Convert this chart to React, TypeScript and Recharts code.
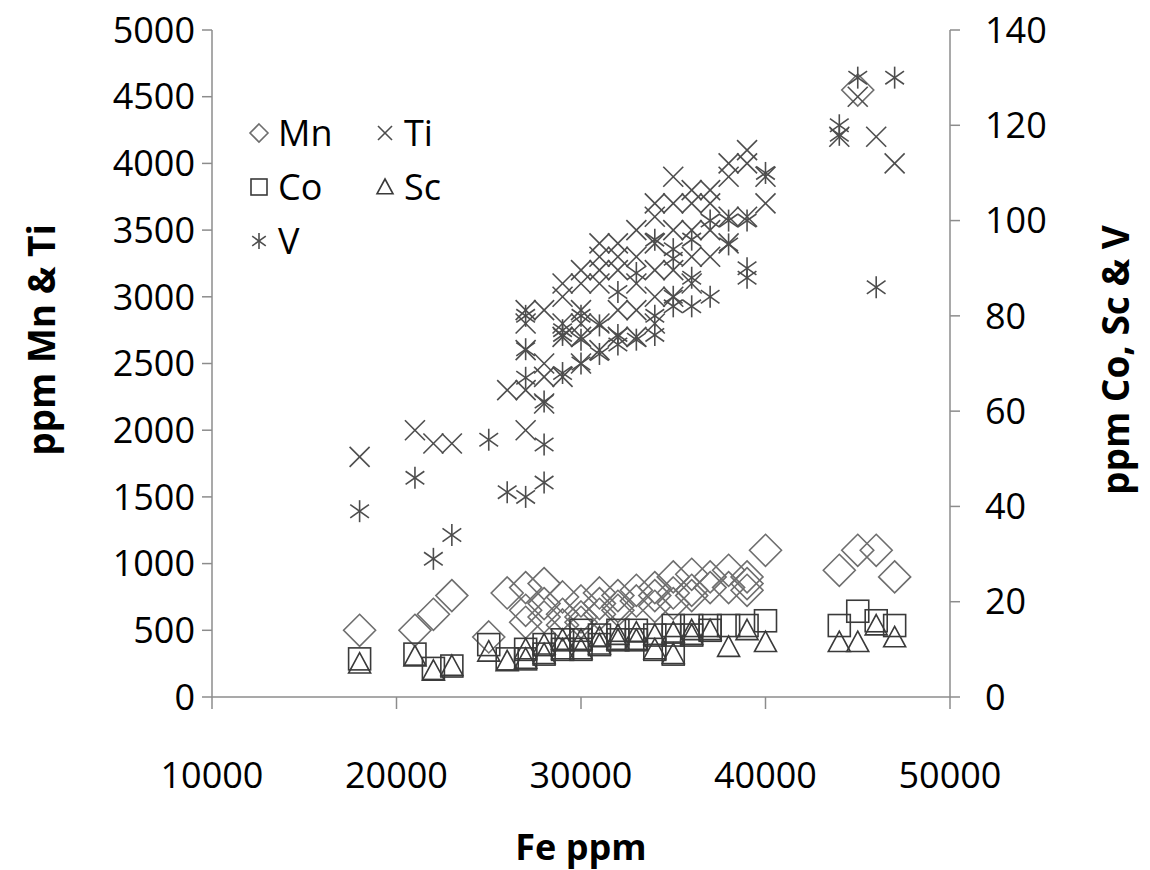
import { ScatterChart, Scatter, XAxis, YAxis, Legend, Label } from 'recharts';

const FONT = '"Open Sans", sans-serif';
const AXIS = '#8c8c8c';
const INK = '#4d4d4d';

const feTicks = [10000, 20000, 30000, 40000, 50000];
const leftTicks = [0, 500, 1000, 1500, 2000, 2500, 3000, 3500, 4000, 4500, 5000];
const rightTicks = [0, 20, 40, 60, 80, 100, 120, 140];

// [Fe ppm, ppm] pairs
const mn = [
  [18000, 500], [21000, 500], [22000, 620], [23000, 760], [25000, 450], [26000, 780],
  [27000, 820], [27000, 650], [27000, 560], [28000, 850], [28000, 700], [28000, 600],
  [29000, 750], [29000, 620], [29000, 540], [30000, 720], [30000, 600], [30000, 560],
  [31000, 780], [31000, 700], [31000, 620], [32000, 760], [32000, 680], [32000, 650],
  [33000, 800], [33000, 720], [34000, 820], [34000, 760], [34000, 680], [35000, 900],
  [35000, 780], [35000, 700], [36000, 920], [36000, 800], [36000, 760], [37000, 900],
  [37000, 820], [38000, 950], [38000, 820], [39000, 900], [39000, 850], [39000, 800],
  [40000, 1100], [44000, 950], [45000, 1100], [45000, 4550], [46000, 1100], [47000, 900],
];

const ti = [
  [18000, 1800], [21000, 2000], [22000, 1900], [23000, 1900], [26000, 2300],
  [27000, 2000], [27000, 2300], [27000, 2600], [27000, 2800], [27000, 2900],
  [28000, 2200], [28000, 2400], [28000, 2500], [28000, 2900],
  [29000, 2400], [29000, 2700], [29000, 2800], [29000, 3000], [29000, 3100],
  [30000, 2500], [30000, 2700], [30000, 2800], [30000, 2900], [30000, 3100], [30000, 3200],
  [31000, 2600], [31000, 2800], [31000, 3100], [31000, 3200], [31000, 3300], [31000, 3400],
  [32000, 2700], [32000, 2900], [32000, 3200], [32000, 3300], [32000, 3400],
  [33000, 2700], [33000, 2900], [33000, 3100], [33000, 3300], [33000, 3500],
  [34000, 2800], [34000, 3000], [34000, 3200], [34000, 3400], [34000, 3600], [34000, 3700],
  [35000, 3000], [35000, 3200], [35000, 3500], [35000, 3700], [35000, 3900],
  [36000, 3100], [36000, 3300], [36000, 3500], [36000, 3700], [36000, 3800],
  [37000, 3300], [37000, 3500], [37000, 3700], [37000, 3800],
  [38000, 3400], [38000, 3600], [38000, 3900], [38000, 4000],
  [39000, 3600], [39000, 4000], [39000, 4100], [40000, 3700], [40000, 3900],
  [44000, 4200], [45000, 4500], [46000, 4200], [47000, 4000],
];

const co = [
  [18000, 8], [21000, 9], [22000, 6], [23000, 6.5], [25000, 11], [26000, 8],
  [27000, 8], [27000, 10], [28000, 9], [28000, 11], [29000, 10], [29000, 12],
  [30000, 10], [30000, 12], [30000, 14], [31000, 11], [31000, 13], [32000, 12],
  [32000, 14], [33000, 12], [33000, 14], [34000, 10], [34000, 13], [35000, 9],
  [35000, 13], [35000, 15], [36000, 13], [36000, 15], [37000, 14], [37000, 15],
  [38000, 15], [39000, 15], [40000, 16], [44000, 15], [45000, 18], [46000, 16], [47000, 15],
];

const sc = [
  [18000, 7], [21000, 8.5], [22000, 5.5], [23000, 6.5], [25000, 9.5], [26000, 7.5],
  [27000, 8], [27000, 10], [28000, 9], [28000, 11], [29000, 10], [29000, 12],
  [30000, 10], [30000, 12], [31000, 11], [31000, 12.5], [32000, 12], [32000, 13],
  [33000, 12], [33000, 13.5], [34000, 10], [34000, 13], [35000, 9], [35000, 13.5],
  [36000, 13], [36000, 14], [37000, 14], [38000, 10.5], [39000, 14], [40000, 11.5],
  [44000, 11.5], [45000, 11.5], [46000, 15], [47000, 12.5],
];

const v = [
  [18000, 39], [21000, 46], [22000, 29], [23000, 34], [25000, 54], [26000, 43],
  [27000, 42], [27000, 67], [27000, 73], [27000, 80], [28000, 45], [28000, 53], [28000, 62],
  [29000, 68], [29000, 76], [29000, 77], [30000, 70], [30000, 75], [30000, 80],
  [31000, 72], [31000, 78], [32000, 74], [32000, 76], [32000, 85], [33000, 75], [33000, 89],
  [34000, 76], [34000, 80], [34000, 96], [35000, 82], [35000, 84], [35000, 92], [35000, 94],
  [36000, 82], [36000, 88], [36000, 96], [37000, 84], [37000, 100], [38000, 95], [38000, 100],
  [39000, 88], [39000, 90], [39000, 100], [40000, 110], [44000, 118], [44000, 120],
  [45000, 130], [46000, 86], [47000, 130],
];

const toPoints = (rows: number[][]) => rows.map(([x, y]) => ({ x, y }));

type Mark = { cx: number; cy: number; s?: number };

const Diamond = ({ cx, cy, s = 16 }: Mark) => (
  <polygon points={`${cx},${cy - s} ${cx + s},${cy} ${cx},${cy + s} ${cx - s},${cy}`}
    fill="none" stroke="#6e6e6e" strokeWidth={1.6} />
);
const Square = ({ cx, cy, s = 11 }: Mark) => (
  <rect x={cx - s} y={cy - s} width={2 * s} height={2 * s} fill="none" stroke="#3a3a3a" strokeWidth={1.6} />
);
const Triangle = ({ cx, cy, s = 11 }: Mark) => (
  <polygon points={`${cx},${cy - s} ${cx + s},${cy + s * 0.85} ${cx - s},${cy + s * 0.85}`}
    fill="none" stroke="#3a3a3a" strokeWidth={1.6} />
);
const Cross = ({ cx, cy, s = 10 }: Mark) => (
  <g stroke={INK} strokeWidth={1.6}>
    <line x1={cx - s} y1={cy - s} x2={cx + s} y2={cy + s} />
    <line x1={cx - s} y1={cy + s} x2={cx + s} y2={cy - s} />
  </g>
);
const Star = ({ cx, cy, s = 11 }: Mark) => (
  <g stroke={INK} strokeWidth={1.6}>
    <line x1={cx} y1={cy - s} x2={cx} y2={cy + s} />
    <line x1={cx - s * 0.85} y1={cy - s * 0.6} x2={cx + s * 0.85} y2={cy + s * 0.6} />
    <line x1={cx - s * 0.85} y1={cy + s * 0.6} x2={cx + s * 0.85} y2={cy - s * 0.6} />
  </g>
);

const legendItems = [
  { name: 'Mn', Icon: Diamond, s: 9, left: 0, top: 0 },
  { name: 'Ti', Icon: Cross, s: 7, left: 126, top: 0 },
  { name: 'Co', Icon: Square, s: 8, left: 0, top: 54 },
  { name: 'Sc', Icon: Triangle, s: 8, left: 126, top: 54 },
  { name: 'V', Icon: Star, s: 8, left: 0, top: 108 },
];

const renderLegend = () => (
  <div style={{ position: 'relative', width: 240, height: 160, fontFamily: FONT, fontSize: 36 }}>
    {legendItems.map(({ name, Icon, s, left, top }) => (
      <div key={name} style={{ position: 'absolute', left, top, display: 'flex', alignItems: 'center', height: 50 }}>
        <svg width={26} height={26} style={{ marginRight: 6 }}>
          <Icon cx={13} cy={13} s={s} />
        </svg>
        <span style={{ lineHeight: '50px' }}>{name}</span>
      </div>
    ))}
  </div>
);

const tickStyle = { fill: '#000', fontSize: 36, fontFamily: FONT };
const titleStyle = { fontSize: 37, fontWeight: 700, fontFamily: FONT, fill: '#000' };

export default function App() {
  return (
    <div style={{ marginTop: -8 }}>
      <ScatterChart width={1134} height={870} margin={{ top: 30, right: 0, bottom: 0, left: 0 }}>
        <XAxis
          type="number" dataKey="x" domain={[10000, 50000]} ticks={feTicks}
          stroke={AXIS} strokeWidth={1.5} tickSize={12} tickMargin={53} tick={tickStyle} height={173}
        >
          <Label content={() => (
            <text x={573} y={846} textAnchor="middle" dominantBaseline="central" style={{ ...titleStyle, fontSize: 36 }}>Fe ppm</text>
          )} />
        </XAxis>
        <YAxis
          yAxisId="left" type="number" dataKey="y" domain={[0, 5000]} ticks={leftTicks} width={204}
          stroke={AXIS} strokeWidth={1.5} tickSize={10} tickMargin={7} tick={tickStyle}
        >
          <Label content={() => (
            <text x={32} y={340} transform="rotate(-90 32 340)" textAnchor="middle" dominantBaseline="central" style={titleStyle}>ppm Mn &amp; Ti</text>
          )} />
        </YAxis>
        <YAxis
          yAxisId="right" orientation="right" type="number" dataKey="y" domain={[0, 140]} ticks={rightTicks} width={192}
          stroke={AXIS} strokeWidth={1.5} tickSize={10} tickMargin={25} tick={tickStyle}
        >
          <Label content={() => (
            <text x={1106} y={360} transform="rotate(-90 1106 360)" textAnchor="middle" dominantBaseline="central" style={titleStyle}>ppm Co, Sc &amp; V</text>
          )} />
        </YAxis>
        <Legend
          layout="horizontal" verticalAlign="middle" align="center" content={renderLegend}
          wrapperStyle={{ left: 238, top: 108, width: 260, height: 160 }}
        />
        <Scatter name="Mn" yAxisId="left" data={toPoints(mn)} isAnimationActive={false}
          shape={(p: any) => <Diamond cx={p.cx} cy={p.cy} />} />
        <Scatter name="Ti" yAxisId="left" data={toPoints(ti)} isAnimationActive={false}
          shape={(p: any) => <Cross cx={p.cx} cy={p.cy} />} />
        <Scatter name="Co" yAxisId="right" data={toPoints(co)} isAnimationActive={false}
          shape={(p: any) => <Square cx={p.cx} cy={p.cy} />} />
        <Scatter name="Sc" yAxisId="right" data={toPoints(sc)} isAnimationActive={false}
          shape={(p: any) => <Triangle cx={p.cx} cy={p.cy} />} />
        <Scatter name="V" yAxisId="right" data={toPoints(v)} isAnimationActive={false}
          shape={(p: any) => <Star cx={p.cx} cy={p.cy} />} />
      </ScatterChart>
    </div>
  );
}
